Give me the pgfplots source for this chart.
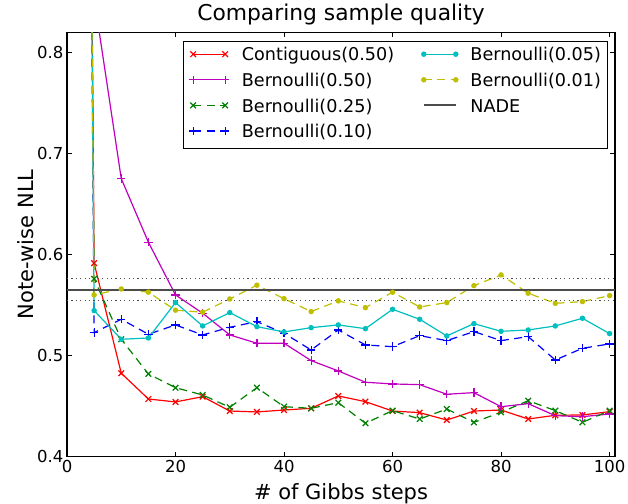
\documentclass[border=0pt]{standalone}
\usepackage{fontspec}
\setmainfont{DejaVu Sans}
\usepackage{pgfplots}
\pgfplotsset{compat=1.18}

\definecolor{mplr}{rgb}{1,0,0}
\definecolor{mplm}{rgb}{0.75,0,0.75}
\definecolor{mplg}{rgb}{0,0.5,0}
\definecolor{mplb}{rgb}{0,0,1}
\definecolor{mplc}{rgb}{0,0.75,0.75}
\definecolor{mply}{rgb}{0.75,0.75,0}
\definecolor{nade}{rgb}{0.3,0.3,0.3}

\newcommand{\ticksize}{\fontsize{16.5bp}{19bp}\selectfont}
\newcommand{\legsize}{\fontsize{17.6bp}{20bp}\selectfont}
\newcommand{\labsize}{\fontsize{21bp}{24bp}\selectfont}
\newcommand{\titsize}{\fontsize{21.8bp}{25bp}\selectfont}

\pgfplotsset{
  sx/.style={line width=1.2bp, mark=x, mark size=4bp},
  sp/.style={line width=1.2bp, mark=+, mark size=4.2bp},
  sd/.style={line width=1.2bp, mark=*, mark size=2.1bp},
  dsh/.style={dash pattern=on 8bp off 5.5bp, mark options={solid}},
}

\begin{document}
\begin{tikzpicture}
\useasboundingbox (-67bp,-47.3bp) rectangle (561bp,456.7bp);

\begin{axis}[
  at={(0,0)}, anchor=south west,
  scale only axis, width=548bp, height=424.4bp,
  xmin=0, xmax=101, ymin=0.4, ymax=0.82,
  xtick={0,20,40,60,80,100},
  ytick={0.4,0.5,0.6,0.7,0.8},
  tick pos=both, tick align=inside,
  major tick length=5bp,
  tick style={black, line width=0.9bp},
  axis line style={black, line width=1.1bp},
  /pgf/number format/assume math mode=true,
  tick label style={font=\ticksize},
  yticklabel style={/pgf/number format/.cd, fixed, fixed zerofill, precision=1},
  title={Comparing sample quality},
  title style={font=\titsize, at={(axis description cs:0.5,1.0141)}, anchor=base},
  xlabel={\# of Gibbs steps},
  xlabel style={font=\labsize, at={(axis description cs:0.5,-0.0997)}, anchor=base},
  ylabel={Note-wise NLL},
  ylabel style={font=\labsize, at={(axis description cs:-0.0615,0.5)}, anchor=base},
  legend columns=4, transpose legend,
  legend image code/.code={
    \draw[#1, mark=none] (0bp,6.8bp) -- (32bp,6.8bp);
    \draw[#1, only marks] plot coordinates {(0bp,6.8bp) (32bp,6.8bp)};
  },
  legend style={at={(axis description cs:0.986,0.980)}, anchor=north east,
    draw=black, line width=0.8bp, fill=white, font=\legsize,
    inner xsep=6bp, inner ysep=7bp, row sep=8.8bp,
    nodes={inner sep=0bp, text height=12.8bp, text depth=4bp},
    cells={anchor=base west},
    /tikz/every odd column/.append style={column sep=12.5bp},
    /tikz/every even column/.append style={column sep=27.5bp}},
]

% Contiguous(0.50)
\addplot[draw=mplr, color=mplr, sx] coordinates {
  (0,4) (5,0.5915) (10,0.4826) (15,0.4571) (20,0.4542) (25,0.4594) (30,0.4452)
  (35,0.4443) (40,0.4462) (45,0.4479) (50,0.4601) (55,0.4545) (60,0.4452)
  (65,0.4436) (70,0.4363) (75,0.4452) (80,0.4462) (85,0.4373) (90,0.4410)
  (95,0.4413) (100,0.4446)};
\addlegendentry{Contiguous(0.50)}

% Bernoulli(0.50)
\addplot[draw=mplm, color=mplm, sp] coordinates {
  (0,4) (5,0.854) (10,0.6752) (15,0.6123) (20,0.5601) (25,0.542) (30,0.5205)
  (35,0.5123) (40,0.5123) (45,0.4951) (50,0.4849) (55,0.4737) (60,0.472)
  (65,0.4713) (70,0.4618) (75,0.4634) (80,0.4495) (85,0.4525) (90,0.4406)
  (95,0.4396) (100,0.4423)};
\addlegendentry{Bernoulli(0.50)}

% Bernoulli(0.25)
\addplot[draw=mplg, color=mplg, sx, dsh] coordinates {
  (0,4) (5,0.5759) (10,0.5162) (15,0.4819) (20,0.4683) (25,0.4611) (30,0.4489)
  (35,0.4683) (40,0.4495) (45,0.4479) (50,0.4535) (55,0.4331) (60,0.4456)
  (65,0.4373) (70,0.4472) (75,0.4340) (80,0.4440) (85,0.4554) (90,0.4456)
  (95,0.4340) (100,0.4456)};
\addlegendentry{Bernoulli(0.25)}

% Bernoulli(0.10)
\addplot[draw=mplb, color=mplb, sp, dsh] coordinates {
  (0,4) (5,0.5228) (10,0.536) (15,0.5212) (20,0.5304) (25,0.5205) (30,0.5281)
  (35,0.5337) (40,0.5222) (45,0.5056) (50,0.5254) (55,0.5106) (60,0.5089)
  (65,0.5198) (70,0.5149) (75,0.5238) (80,0.5149) (85,0.5188) (90,0.4957)
  (95,0.5073) (100,0.5116)};
\addlegendentry{Bernoulli(0.10)}

% Bernoulli(0.05)
\addplot[draw=mplc, color=mplc, sd] coordinates {
  (0,4) (5,0.5446) (10,0.5162) (15,0.5175) (20,0.5525) (25,0.5294) (30,0.5426)
  (35,0.5287) (40,0.5235) (45,0.5277) (50,0.5304) (55,0.5267) (60,0.5459)
  (65,0.536) (70,0.5195) (75,0.5317) (80,0.5241) (85,0.5254) (90,0.5294)
  (95,0.537) (100,0.5218)};
\addlegendentry{Bernoulli(0.05)}

% Bernoulli(0.01)
\addplot[draw=mply, color=mply, sd, dsh] coordinates {
  (0,4) (5,0.5601) (10,0.566) (15,0.5628) (20,0.545) (25,0.543) (30,0.5561)
  (35,0.5697) (40,0.5564) (45,0.5436) (50,0.5542) (55,0.5475) (60,0.5628)
  (65,0.5482) (70,0.5525) (75,0.5693) (80,0.5799) (85,0.5618) (90,0.5518)
  (95,0.5535) (100,0.5594)};
\addlegendentry{Bernoulli(0.01)}

% NADE and its band
\addplot[draw=nade, color=nade, line width=2bp] coordinates {(0,0.565) (101,0.565)};
\addlegendentry{NADE}
\addplot[color=black!70, line width=1.2bp, dash pattern=on 1.2bp off 3.2bp, forget plot]
  coordinates {(0,0.576) (101,0.576)};
\addplot[color=black!70, line width=1.2bp, dash pattern=on 1.2bp off 3.2bp, forget plot]
  coordinates {(0,0.5545) (101,0.5545)};

\end{axis}
\end{tikzpicture}
\end{document}
